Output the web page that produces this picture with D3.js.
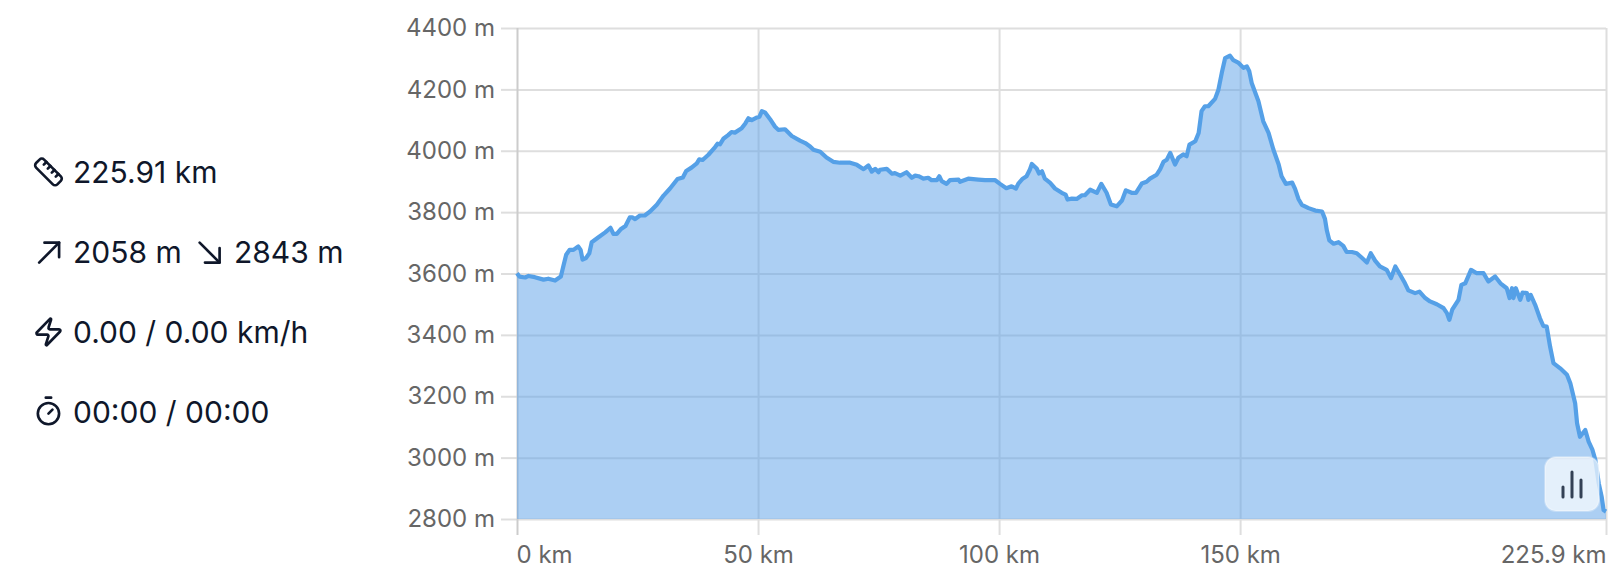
<!DOCTYPE html>
<html>
<head>
<meta charset="utf-8">
<script src="https://cdn.jsdelivr.net/npm/d3@7"></script>
<style>
  body { margin: 0; background: #fff; }
  text { font-family: Inter, sans-serif; }
  .stat { font-size: 30px; fill: #0f172a; }
  .icon { fill: none; stroke: #0f172a; stroke-width: 2; stroke-linecap: round; stroke-linejoin: round; }
  .axis text { font-size: 24px; fill: #666; }
  .axis path { display: none; }
  .axis line { stroke: #dedede; stroke-width: 2; }
</style>
</head>
<body>
<div id="chart"></div>
<script>
const yTicks = [2800, 3000, 3200, 3400, 3600, 3800, 4000, 4200, 4400];
const xTicks = [0, 50, 100, 150, 225.9];

// distance (km), elevation (m)
const profile = [
  [0, 3601], [0.5, 3590], [1.7, 3587], [2.4, 3592], [3.7, 3588], [5.5, 3580], [6.5, 3583], [7.9, 3577],
  [9.1, 3590], [9.6, 3623], [10.2, 3661], [10.9, 3677], [11.7, 3677], [12.7, 3688], [13.2, 3677], [13.6, 3645],
  [14.3, 3650], [15, 3666], [15.5, 3702], [16.9, 3718], [18.3, 3734], [19.4, 3749], [20, 3729], [20.7, 3729],
  [21.5, 3744], [22.5, 3755], [23.4, 3783], [23.9, 3783], [24.5, 3777], [25.5, 3789], [26.5, 3789], [27.6, 3802],
  [29, 3824], [30.4, 3854], [31.7, 3876], [33.3, 3908], [34.4, 3913], [35.1, 3934], [36.2, 3945], [37.3, 3959],
  [37.8, 3972], [38.5, 3970], [39.7, 3987], [41.1, 4012], [41.6, 4023], [42.1, 4021], [42.8, 4039], [43.8, 4051],
  [44.5, 4061], [45.2, 4059], [46.6, 4073], [47.4, 4090], [48, 4106], [48.7, 4100], [49.7, 4108], [50.3, 4111],
  [50.8, 4129], [51.5, 4124], [52.5, 4103], [53.5, 4079], [54.2, 4068], [55.6, 4070], [57, 4048], [58.7, 4033],
  [59.8, 4025], [60.8, 4014], [61.5, 4003], [62.9, 3997], [64.2, 3978], [65.6, 3964], [67, 3961], [69.1, 3961],
  [70.5, 3954], [71.9, 3940], [72.9, 3952], [73.6, 3932], [74.3, 3941], [75, 3930], [75.3, 3938], [76.7, 3941],
  [77.8, 3925], [78.4, 3927], [79.5, 3919], [80.8, 3930], [81.9, 3912], [82.6, 3919], [83.3, 3917], [84.3, 3909],
  [85.3, 3912], [86, 3904], [87.1, 3904], [87.6, 3917], [88.1, 3901], [89.1, 3892], [89.8, 3904], [91.6, 3906],
  [91.9, 3899], [93.6, 3909], [95.7, 3906], [97.1, 3904], [99.2, 3904], [100.2, 3892], [101.5, 3878], [102.6, 3884],
  [103.5, 3877], [104, 3893], [104.9, 3909], [105.7, 3917], [106.4, 3939], [106.8, 3957], [107.8, 3942], [108.3, 3926],
  [108.9, 3933], [109.5, 3909], [110.6, 3895], [111.6, 3877], [113, 3863], [113.8, 3857], [114.2, 3841], [115.1, 3844],
  [116.1, 3843], [117.2, 3855], [117.8, 3855], [118.9, 3873], [120.3, 3863], [121.2, 3892], [122.3, 3863], [123.2, 3825],
  [124.4, 3819], [125.5, 3838], [126.3, 3871], [127.5, 3863], [128.4, 3863], [129.6, 3893], [130.6, 3899], [131.3, 3909],
  [132.7, 3922], [133.4, 3939], [134.1, 3964], [134.8, 3971], [135.5, 3993], [136.5, 3955], [137.2, 3977], [138.2, 3988],
  [138.9, 3982], [139.5, 4020], [140.7, 4031], [141.4, 4058], [142, 4129], [142.7, 4145], [143.4, 4145], [144.8, 4169],
  [145.5, 4199], [146.2, 4254], [146.9, 4302], [147.9, 4310], [148.6, 4295], [149.7, 4286], [150.7, 4270], [151.4, 4275],
  [151.9, 4259], [152.4, 4221], [153.8, 4161], [154.8, 4096], [155.9, 4058], [156.9, 4004], [158, 3955], [158.6, 3917],
  [159.5, 3892], [160.8, 3896], [161.4, 3876], [162.1, 3843], [162.8, 3824], [164.2, 3813], [165.6, 3805], [167, 3802],
  [167.6, 3778], [168, 3740], [168.5, 3708], [169.4, 3697], [170.4, 3702], [171.4, 3690], [172.1, 3670], [173.2, 3670],
  [174.2, 3666], [175.2, 3652], [176.3, 3636], [177.1, 3666], [178, 3642], [179, 3623], [180.4, 3612], [181.3, 3585],
  [182.2, 3623], [183.2, 3596], [184.2, 3568], [184.9, 3545], [186.3, 3536], [187.2, 3541], [188.4, 3520], [189.4, 3509],
  [190.8, 3500], [192.2, 3487], [192.9, 3471], [193.4, 3449], [194, 3482], [195.3, 3514], [195.9, 3563], [196.7, 3568],
  [197.9, 3612], [199.1, 3601], [200.5, 3601], [201.5, 3574], [202.9, 3590], [204, 3568], [205.3, 3552], [205.9, 3520],
  [206.4, 3552], [206.7, 3520], [207.2, 3552], [208.1, 3514], [208.6, 3538], [209.5, 3536], [209.8, 3514], [210.3, 3530],
  [211.2, 3498], [212.2, 3454], [212.9, 3429], [213.6, 3427], [214.3, 3362], [215, 3308], [216.4, 3291], [217.8, 3270],
  [218.5, 3242], [219.5, 3177], [219.9, 3112], [220.5, 3068], [221.6, 3090], [222.3, 3052], [223.1, 3025], [223.7, 2992],
  [224.4, 2916], [225, 2873], [225.4, 2829], [225.9, 2824],
];

const statRows = [
  { text: "225.91 km", y: 183 },
  { text: "2058 m", y: 263 },
  { text: "0.00 / 0.00 km/h", y: 343 },
  { text: "00:00 / 00:00", y: 423 },
];

const w = 1614;
const h = 568;
const marginTop = 28;
const marginRight = 8;
const marginBottom = 49;
const marginLeft = 517;

const x = d3.scaleLinear().domain([0, 225.9]).range([marginLeft, w - marginRight]);
const y = d3.scaleLinear().domain([2800, 4400]).range([h - marginBottom, marginTop]);

const svg = d3.select("#chart").append("svg").attr("width", w).attr("height", h).style("display", "block");

// left column
svg.selectAll(".stat").data(statRows).enter().append("text")
  .attr("class", "stat")
  .attr("x", 73)
  .attr("y", d => d.y)
  .text(d => d.text);
svg.append("text").attr("class", "stat").attr("x", 234).attr("y", 263).text("2843 m");

function icon(tx, ty, parts) {
  const g = svg.append("g").attr("class", "icon").attr("transform", `translate(${tx},${ty}) scale(1.33)`);
  parts.forEach(p => g.append("path").attr("d", p));
}
icon(32.5, 156, [
  "M21.3 15.3a2.4 2.4 0 0 1 0 3.4l-2.6 2.6a2.4 2.4 0 0 1-3.4 0L2.7 8.7a2.41 2.41 0 0 1 0-3.4l2.6-2.6a2.41 2.41 0 0 1 3.4 0Z",
  "m14.5 12.5 2-2", "m11.5 9.5 2-2", "m8.5 6.5 2-2", "m17.5 15.5 2-2",
]);
icon(32.5, 236, ["M5 20 20 5", "M9 5h11v11"]);
icon(193, 236, ["M5 5 20 20", "M20 9v11H9"]);
icon(32.5, 316, ["M4 14a1 1 0 0 1-.78-1.63l9.9-10.2a.5.5 0 0 1 .86.46l-1.92 6.02A1 1 0 0 0 13 10h7a1 1 0 0 1 .78 1.63l-9.9 10.2a.5.5 0 0 1-.86-.46l1.92-6.02A1 1 0 0 0 11 14z"]);
icon(32.5, 395, ["M10 2h4", "M12 14l3-3", "M20 14a8 8 0 1 1-16 0 8 8 0 0 1 16 0z"]);

// axes and grid go under the translucent area
const yAxis = svg.append("g")
  .attr("class", "axis")
  .attr("transform", `translate(${marginLeft},0)`)
  .call(d3.axisLeft(y).tickValues(yTicks).tickSize(16).tickPadding(6).tickFormat(d => `${d} m`));
yAxis.selectAll(".tick").append("line").attr("x2", w - marginRight - marginLeft);

const xAxis = svg.append("g")
  .attr("class", "axis")
  .attr("transform", `translate(0,${h - marginBottom})`)
  .call(d3.axisBottom(x).tickValues(xTicks).tickSize(16).tickPadding(11).tickFormat(d => `${d} km`));
xAxis.selectAll(".tick").append("line").attr("y2", -(h - marginBottom - marginTop));
xAxis.selectAll(".tick text")
  .attr("text-anchor", (d, i) => (i === 0 ? "start" : i === xTicks.length - 1 ? "end" : "middle"))
  .attr("dx", (d, i) => (i === 0 ? -1 : 0));
xAxis.selectAll(".tick").filter(d => d === 0).selectAll("line").style("stroke", "#cccccc");

const area = d3.area().x(d => x(d[0])).y0(y(2800)).y1(d => y(d[1]));
const line = d3.line().x(d => x(d[0])).y(d => y(d[1]));

svg.append("path").datum(profile).attr("d", area).attr("fill", "#5aa0e8").attr("opacity", 0.5);
svg.append("path").datum(profile).attr("d", line)
  .attr("fill", "none").attr("stroke", "#55a0e7").attr("stroke-width", 4.2).attr("stroke-linejoin", "round");

// chart toggle button
const btn = svg.append("g").attr("transform", "translate(1545,457)");
btn.append("rect").attr("width", 54).attr("height", 54).attr("rx", 11)
  .attr("fill", "#fff").attr("fill-opacity", 0.68).attr("stroke", "#fff").attr("stroke-opacity", 0.3).attr("stroke-width", 2);
btn.selectAll("line").data([[18, 10], [27, 25], [36, 17]]).enter().append("line")
  .attr("x1", d => d[0]).attr("x2", d => d[0]).attr("y1", 40).attr("y2", d => 40 - d[1])
  .attr("stroke", "#334155").attr("stroke-width", 3).attr("stroke-linecap", "round");
</script>
</body>
</html>
